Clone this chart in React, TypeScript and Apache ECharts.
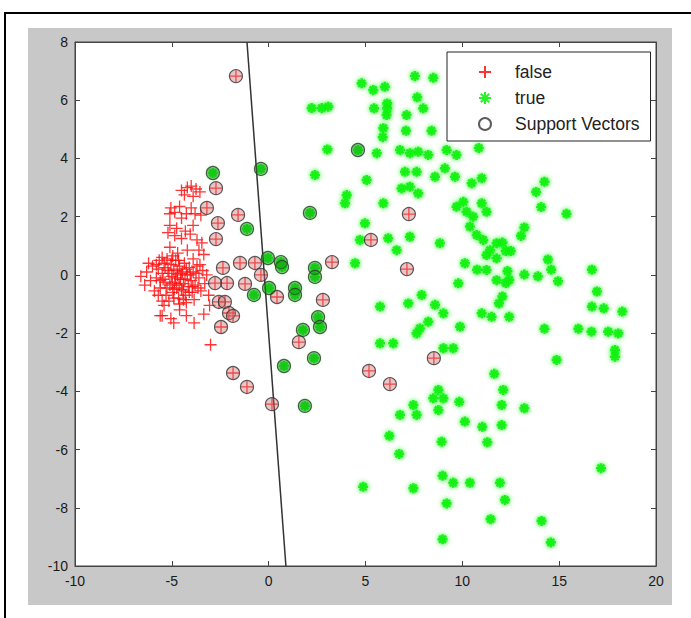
import React, { useEffect, useRef } from "react";
import * as echarts from "echarts";

// ---- data ----
const falsePoints: number[][] = [
  [-4.5, 2.9], [-4.2, 3.0], [-4.0, 3.05], [-3.75, 2.95], [-3.55, 2.85], [-4.35, 2.75], [-3.9, 2.7],
  [-5.05, 2.3], [-5.1, 2.1], [-4.85, 2.15], [-4.5, 1.95], [-4.25, 2.1], [-3.8, 2.1], [-3.5, 2.05], [-4.0, 2.3], [-4.6, 2.35],
  [-5.1, 1.7], [-4.75, 1.6], [-4.3, 1.5], [-4.05, 1.4], [-4.85, 1.35], [-4.5, 1.25], [-3.7, 1.2], [-3.45, 1.1], [-5.2, 1.45], [-3.9, 1.7],
  [-5.1, 0.95], [-4.2, 0.85], [-3.6, 0.85], [-3.35, 0.7], [-4.7, 0.75], [-5.5, 0.6], [-3.9, 0.55],
  [-6.6, -0.05], [-6.3, 0.1], [-6.1, -0.2], [-6.0, 0.3], [-5.8, -0.1], [-5.7, 0.2], [-5.6, -0.45], [-5.5, 0.05],
  [-5.4, 0.4], [-5.35, -0.25], [-5.3, -0.7], [-5.2, 0.15], [-5.1, -0.35], [-5.05, 0.35], [-5.0, -0.05], [-4.95, -0.6],
  [-4.9, 0.2], [-4.85, -0.25], [-4.8, 0.5], [-4.75, -0.45], [-4.7, 0.0], [-4.65, -0.8], [-4.6, 0.3], [-4.55, -0.15],
  [-4.5, -0.5], [-4.45, 0.1], [-4.4, -0.3], [-4.35, 0.4], [-4.3, -0.7], [-4.2, 0.0], [-4.15, -0.4], [-4.1, 0.25],
  [-4.0, -0.2], [-3.95, -0.6], [-3.9, 0.1], [-3.8, -0.35], [-3.7, 0.3], [-3.6, -0.1], [-3.5, -0.55], [-3.4, 0.15],
  [-3.3, -0.3], [-3.2, 0.0], [-3.1, -0.7], [-5.9, -0.55], [-5.5, -0.9], [-6.2, 0.4], [-5.25, 0.55], [-4.95, 0.65],
  [-4.6, -1.0], [-4.25, -0.95], [-3.85, -0.85], [-5.65, 0.5], [-6.4, -0.35], [-5.15, -0.9],
  [-5.45, -0.15], [-5.25, -0.45], [-5.15, 0.05], [-4.98, -0.3], [-4.88, -0.5], [-4.8, -0.1], [-4.72, 0.15],
  [-4.62, -0.35], [-4.52, 0.05], [-4.42, -0.55], [-4.32, -0.15], [-4.25, 0.2], [-4.1, -0.6], [-4.05, 0.0],
  [-3.92, -0.4], [-3.75, 0.05], [-3.65, -0.45], [-5.35, 0.25], [-5.6, -0.2], [-5.8, 0.35], [-4.65, 0.5],
  [-4.4, -0.85], [-5.0, 0.5], [-3.55, 0.35], [-4.9, -0.8], [-5.7, -0.7],
  [-5.4, -1.05], [-5.5, -1.4], [-5.05, -1.5], [-4.6, -1.2], [-4.9, -1.65], [-4.25, -1.4], [-3.85, -1.65],
  [-3.35, -1.35], [-3.0, -2.4], [-3.05, -1.05], [-5.6, -1.4],
];

const truePoints: number[][] = [
  [2.22, 5.73], [2.74, 5.73], [3.08, 5.78], [4.8, 6.58], [5.4, 6.35], [6.0, 6.46], [6.12, 5.89], [6.12, 5.72],
  [5.44, 5.72], [6.09, 5.49], [7.12, 5.49], [7.55, 6.83], [8.5, 6.77], [7.67, 6.1], [7.98, 5.72], [5.92, 5.04],
  [7.09, 4.95], [8.41, 4.95], [5.89, 4.73], [3.03, 4.31],
  [5.58, 4.18], [6.78, 4.29], [7.29, 4.18], [7.72, 4.23], [8.24, 4.12], [9.19, 4.29], [9.7, 4.12],
  [7.04, 3.54], [7.64, 3.54], [8.59, 3.37], [9.1, 3.66], [9.62, 3.37], [11.0, 3.32], [10.48, 3.15], [2.39, 3.43],
  [5.06, 3.26], [6.86, 2.97], [7.29, 3.03], [7.72, 2.8], [4.03, 2.74], [3.94, 2.46], [5.92, 2.46],
  [9.7, 2.34], [10.05, 2.51], [10.22, 2.17], [10.56, 2.0], [11.0, 2.46], [11.25, 2.17], [4.97, 1.77],
  [6.17, 1.26], [6.61, 0.85], [7.29, 1.31], [10.39, 1.66], [10.74, 1.37], [11.08, 1.2], [11.43, 0.85],
  [11.77, 1.09], [11.25, 0.68], [11.77, 0.57], [4.71, 1.2], [8.84, 1.09], [4.46, 0.4], [10.13, 0.4],
  [11.25, 0.17], [11.77, -0.18], [9.79, -0.29], [5.75, -1.09], [7.21, -0.98], [7.9, -0.69], [8.59, -1.03],
  [9.02, -1.32], [7.81, -1.84], [7.64, -2.01], [8.24, -1.61], [9.88, -1.78], [11.0, -1.32], [11.51, -1.44],
  [5.75, -2.35], [6.43, -2.35], [9.02, -2.52], [9.53, -2.52], [11.65, -3.4],
  [12.11, -3.95], [12.03, -4.47], [12.03, -5.16], [13.2, -4.58], [8.76, -3.95], [8.5, -4.24], [9.02, -4.24],
  [8.76, -4.64], [9.84, -4.36], [7.47, -4.47], [7.64, -4.81], [6.78, -4.81], [10.13, -5.04], [11.03, -5.22],
  [6.23, -5.53], [8.93, -5.73], [11.29, -5.75], [6.74, -6.15], [14.87, -2.92], [17.88, -2.58], [17.88, -2.81],
  [16.67, -1.95], [17.53, -1.95], [18.05, -2.01], [17.16, -6.64], [8.98, -6.9], [9.53, -7.14], [10.39, -7.14],
  [11.94, -7.14], [4.88, -7.28], [7.47, -7.33], [12.2, -7.73], [9.19, -7.85], [11.46, -8.39], [14.09, -8.45],
  [8.98, -9.08], [14.57, -9.19],
  [10.85, 4.36], [14.07, 2.33], [13.81, 2.85], [14.24, 3.2], [15.38, 2.1], [13.03, 1.34], [13.2, 1.63],
  [12.07, 1.11], [12.24, 0.82], [12.5, 0.82], [14.42, 0.53], [14.59, 0.18], [16.69, 0.18], [13.2, 0.01],
  [13.9, -0.05], [14.94, -0.22], [12.33, 0.13], [12.24, -0.28], [12.42, -0.17], [10.76, 0.18], [12.07, -0.74],
  [11.89, -0.98], [12.42, -1.44], [16.95, -0.57], [16.69, -1.09], [17.3, -1.15], [18.26, -1.26], [14.24, -1.85],
  [15.99, -1.85],
];

const svFalse: number[][] = [
  [-1.69, 6.83], [-2.72, 2.98], [-3.19, 2.3], [-1.58, 2.06], [-2.62, 1.78], [-2.72, 1.23], [-1.48, 0.41],
  [-0.71, 0.41], [-0.4, 0.0], [-2.36, 0.24], [-2.15, -0.28], [-2.77, -0.28], [-1.22, -0.31], [0.43, -0.76],
  [-2.57, -0.93], [-2.26, -0.93], [-2.05, -1.31], [-1.84, -1.41], [-2.46, -1.79], [2.8, -0.86], [3.27, 0.44],
  [1.56, -2.31], [-1.84, -3.37], [-1.12, -3.85], [0.17, -4.44], [5.28, 1.2], [7.24, 2.09], [7.14, 0.2],
  [5.18, -3.3], [6.26, -3.75], [8.53, -2.86],
];

const svTrue: number[][] = [
  [-2.88, 3.5], [-0.4, 3.64], [-1.12, 1.58], [2.13, 2.13], [-0.04, 0.58], [0.63, 0.44], [0.69, 0.27],
  [-0.76, -0.69], [0.02, -0.45], [1.36, -0.45], [1.36, -0.69], [2.39, 0.24], [2.39, -0.07], [2.55, -1.45],
  [2.65, -1.79], [1.77, -1.89], [2.34, -2.86], [0.79, -3.13], [1.87, -4.5], [4.61, 4.29],
];

const boundary: number[][] = [[-1.12, 8], [0.89, -10]];

const seriesNames = ["false", "true", "Support Vectors"];
const xRange = [-10, 20];
const yRange = [-10, 8];

const FONT = "'Liberation Sans', Arial, sans-serif";
const PLUS = "path://M0 -10 L0 10 M-10 0 L10 0";
const STAR = "path://M0 -10 L0 10 M-10 0 L10 0 M-7 -7 L7 7 M-7 7 L7 -7";

export default function App() {
  const ref = useRef<HTMLDivElement>(null);
  useEffect(() => {
    document.body.style.margin = "0";
    const chart = echarts.init(ref.current!, null, { renderer: "svg" });
    const axisCommon = {
      axisLine: { show: true, onZero: false, lineStyle: { color: "#444", width: 1 } },
      axisTick: { show: true, inside: true, length: 5, lineStyle: { color: "#444" } },
      splitLine: { show: false },
    };
    const svData = [
      ...svFalse.map((p) => ({ value: p, itemStyle: { color: "rgba(205,110,110,0.5)" } })),
      ...svTrue.map((p) => ({ value: p, itemStyle: { color: "rgba(20,150,20,0.55)" } })),
    ];
    chart.setOption({
      animation: false,
      backgroundColor: "#fff",
      graphic: [
        { type: "rect", z: -100, shape: { x: 5, y: 13, width: 720, height: 700 }, style: { fill: "#fff", stroke: "#000", lineWidth: 2 } },
        { type: "rect", z: -99, shape: { x: 28, y: 28, width: 644, height: 577 }, style: { fill: "#c8c8c8" } },
      ],
      grid: { left: 75, right: 35, top: 42, bottom: 52, show: true, backgroundColor: "#fff", borderColor: "#444", borderWidth: 1 },
      legend: {
        orient: "vertical",
        left: 447,
        top: 52,
        data: seriesNames,
        backgroundColor: "#fff",
        borderColor: "#222",
        borderWidth: 1,
        borderRadius: 0,
        padding: [11, 11, 8, 31],
        itemGap: 8,
        itemWidth: 40,
        itemHeight: 12,
        textStyle: { fontFamily: FONT, fontSize: 17.5, color: "#222", padding: [0, 0, 0, 5] },
      },
      xAxis: [
        {
          type: "value", min: xRange[0], max: xRange[1], interval: 5, position: "bottom", ...axisCommon,
          axisLabel: { fontFamily: FONT, fontSize: 14, color: "#1a1a1a", margin: 8 },
        },
        {
          type: "value", min: xRange[0], max: xRange[1], interval: 5, position: "top", ...axisCommon,
          axisLabel: { show: false },
        },
      ],
      yAxis: [
        {
          type: "value", min: yRange[0], max: yRange[1], interval: 2, position: "left", ...axisCommon,
          axisLabel: { fontFamily: FONT, fontSize: 14, color: "#1a1a1a", margin: 7 },
        },
        {
          type: "value", min: yRange[0], max: yRange[1], interval: 2, position: "right", ...axisCommon,
          axisLabel: { show: false },
        },
      ],
      series: [
        {
          name: "false",
          type: "scatter",
          symbol: PLUS,
          symbolSize: 12,
          data: [...falsePoints, ...svFalse],
          itemStyle: { color: "#ff1010", borderColor: "#ff1010", borderWidth: 1.3, opacity: 0.85 },
          z: 2,
        },
        {
          name: "true",
          type: "scatter",
          symbol: STAR,
          symbolSize: 10,
          data: [...truePoints, ...svTrue],
          itemStyle: { color: "#10f010", borderColor: "#10f010", borderWidth: 2.6, opacity: 0.9, shadowBlur: 5, shadowColor: "rgba(0,255,0,0.9)" },
          z: 3,
        },
        {
          name: "boundary",
          type: "line",
          data: boundary,
          symbol: "none",
          lineStyle: { color: "#333", width: 1.5 },
          z: 4,
        },
        {
          name: "Support Vectors",
          type: "scatter",
          symbol: "circle",
          symbolSize: 13,
          data: svData,
          itemStyle: { color: "rgba(0,0,0,0)", borderColor: "#333", borderWidth: 1.2 },
          z: 5,
        },
      ],
    });
    return () => chart.dispose();
  }, []);
  return <div ref={ref} style={{ position: "absolute", left: 0, top: 0, width: 691, height: 618 }} />;
}
